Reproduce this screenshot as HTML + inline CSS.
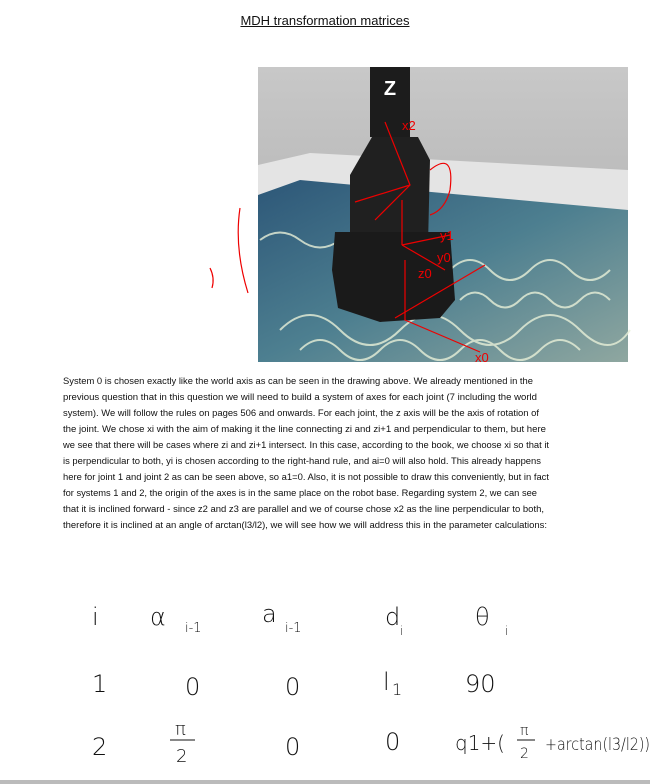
<!DOCTYPE html>
<html><head><meta charset="utf-8">
<style>
body{margin:0;width:650px;height:784px;background:#fff;position:relative;overflow:hidden;font-family:"Liberation Sans",sans-serif;}
#title{position:absolute;left:0;width:650px;top:13px;text-align:center;font-size:13px;text-decoration:underline;color:#111;}
#hand{position:absolute;left:0;top:570px;}
#bottomline{position:absolute;left:0;top:780px;width:650px;height:4px;background:#bbb;}
</style></head><body>
<div id="title">MDH transformation matrices</div>

<svg id="scene" style="position:absolute;left:0;top:0" width="650" height="370">
 <defs>
  <linearGradient id="sky" x1="0" y1="0" x2="0" y2="1"><stop offset="0" stop-color="#c8c8c8"/><stop offset="1" stop-color="#a9a9a9"/></linearGradient>
  <linearGradient id="floor" x1="0" y1="0" x2="1" y2="1"><stop offset="0" stop-color="#2d5778"/><stop offset="0.5" stop-color="#4d7f90"/><stop offset="1" stop-color="#8fa7a0"/></linearGradient>
 </defs>
 <rect x="258" y="67" width="370" height="295" fill="url(#sky)"/>
 <polygon points="258,165 310,153 628,170 628,210 258,200" fill="#e4e4e4"/>
 <polygon points="258,195 300,180 628,210 628,362 258,362" fill="url(#floor)"/>
 <g stroke="#e8f0d8" stroke-width="2" fill="none" opacity="0.8">
  <path d="M280,330 q30,-30 60,0 t60,0 t60,0 t60,0 t60,0 t50,0"/>
  <path d="M300,350 q20,-20 40,0 t40,0 t40,0 t40,0 t40,0 t40,0 t40,0"/>
  <path d="M450,270 q20,-20 40,0 t40,0 t40,0 t40,0"/>
  <path d="M260,240 q20,-15 40,0 t40,0"/>
  <path d="M460,300 q15,-15 30,0 t30,0 t30,0 t30,0 t30,0"/>
 </g>
 <polygon points="370,67 410,67 410,137 370,137" fill="#1c1c1c"/>
 <text x="390" y="95" fill="#fff" font-size="20" font-weight="bold" text-anchor="middle">Z</text>
 <polygon points="372,137 418,137 430,160 428,245 350,245 350,175" fill="#202020"/>
 <polygon points="335,232 450,232 455,300 440,318 380,322 338,308 332,270" fill="#1a1a1a"/>
 <g stroke="#e00" stroke-width="1.2" fill="none">
  <path d="M385,122 L410,185 L375,220"/><path d="M410,185 L355,202"/>
  <path d="M402,245 L402,200"/><path d="M402,245 L445,270"/><path d="M402,245 L450,235"/>
  <path d="M405,260 L405,320 L480,352"/><path d="M395,318 L485,265"/>
  <path d="M240,208 q-6,40 8,85"/><path d="M210,268 q5,10 2,20"/>
  <path d="M430,170 q25,-20 20,20 q-5,20 -20,25"/>
 </g>
 <g fill="#e00" font-size="13"><text x="402" y="130">x2</text><text x="437" y="262">y0</text><text x="475" y="362">x0</text><text x="418" y="278">z0</text><text x="440" y="240">y1</text></g>
</svg>

<svg id="para" style="position:absolute;left:0;top:370px" width="650" height="180" font-family="Liberation Sans, sans-serif" font-size="9" fill="#111">
 <text x="63" y="14" textLength="470" lengthAdjust="spacingAndGlyphs">System 0 is chosen exactly like the world axis as can be seen in the drawing above. We already mentioned in the</text>
 <text x="63" y="30" textLength="474" lengthAdjust="spacingAndGlyphs">previous question that in this question we will need to build a system of axes for each joint (7 including the world</text>
 <text x="63" y="46" textLength="476" lengthAdjust="spacingAndGlyphs">system). We will follow the rules on pages 506 and onwards. For each joint, the z axis will be the axis of rotation of</text>
 <text x="63" y="62" textLength="483" lengthAdjust="spacingAndGlyphs">the joint. We chose xi with the aim of making it the line connecting zi and zi+1 and perpendicular to them, but here</text>
 <text x="63" y="78" textLength="486" lengthAdjust="spacingAndGlyphs">we see that there will be cases where zi and zi+1 intersect. In this case, according to the book, we choose xi so that it</text>
 <text x="63" y="94" textLength="478" lengthAdjust="spacingAndGlyphs">is perpendicular to both, yi is chosen according to the right-hand rule, and ai=0 will also hold. This already happens</text>
 <text x="63" y="110" textLength="486" lengthAdjust="spacingAndGlyphs">here for joint 1 and joint 2 as can be seen above, so a1=0. Also, it is not possible to draw this conveniently, but in fact</text>
 <text x="63" y="126" textLength="474" lengthAdjust="spacingAndGlyphs">for systems 1 and 2, the origin of the axes is in the same place on the robot base. Regarding system 2, we can see</text>
 <text x="63" y="142" textLength="481" lengthAdjust="spacingAndGlyphs">that it is inclined forward - since z2 and z3 are parallel and we of course chose x2 as the line perpendicular to both,</text>
 <text x="63" y="158" textLength="484" lengthAdjust="spacingAndGlyphs">therefore it is inclined at an angle of arctan(l3/l2), we will see how we will address this in the parameter calculations:</text>
</svg>

<svg id="hand" width="650" height="210" font-family="DejaVu Sans, sans-serif" font-weight="200" fill="#111">
 <g font-size="24"><text x="92" y="55">i</text><text x="150" y="55">α</text><text x="185" y="62" font-size="13">i-1</text>
 <text x="262" y="52">a</text><text x="285" y="62" font-size="13">i-1</text><text x="385" y="55">d</text><text x="400" y="65" font-size="12">i</text>
 <text x="475" y="55">θ</text><text x="505" y="65" font-size="12">i</text></g>
 <g font-size="24"><text x="92" y="122">1</text><text x="185" y="125">0</text><text x="285" y="125">0</text><text x="383" y="120">l</text><text x="392" y="125" font-size="16">1</text><text x="465" y="122">90</text></g>
 <g font-size="24"><text x="92" y="185">2</text><text x="175" y="165" font-size="18">π</text><line x1="170" y1="170" x2="195" y2="170" stroke="#111"/><text x="176" y="192" font-size="18">2</text>
 <text x="285" y="185">0</text><text x="385" y="180">0</text><text x="455" y="180" font-size="20">q1+(</text>
 <text x="520" y="165" font-size="14">π</text><line x1="517" y1="170" x2="535" y2="170" stroke="#111"/><text x="520" y="188" font-size="14">2</text>
 <text x="545" y="180" font-size="17" textLength="105" lengthAdjust="spacingAndGlyphs">+arctan(l3/l2))</text></g>
</svg>
<div id="bottomline"></div>
</body></html>
